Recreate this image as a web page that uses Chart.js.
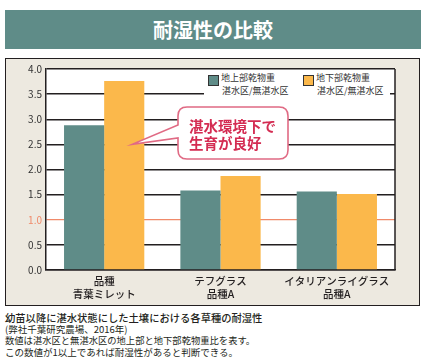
<!DOCTYPE html>
<html><head><meta charset="utf-8">
<script src="https://cdn.jsdelivr.net/npm/chart.js@4"></script>
<style>
html,body{margin:0;padding:0;background:#fff;width:429px;height:364px;overflow:hidden;font-family:"Noto Sans CJK JP","Noto Sans",sans-serif;}
#banner{position:absolute;left:5px;top:10px;width:416px;height:39px;background:#5f8c88;color:#fff;font-weight:700;font-size:20px;line-height:39px;text-align:center;letter-spacing:0px;}
#panel{position:absolute;left:5px;top:58px;width:413px;height:246px;background:#ede9e0;border:1.5px solid #231f20;}
#c{position:absolute;left:6px;top:59px;}
#legend{position:absolute;left:204px;top:70px;width:186px;height:31px;background:#fff;font-size:9px;color:#333;line-height:12px;}
.sw{position:absolute;width:9px;height:9px;border:1px solid #333;}
.lt{position:absolute;white-space:nowrap;}
#notes{position:absolute;left:5px;top:312px;color:#231f20;white-space:nowrap;}
#notes div{height:11.7px;line-height:11.7px;}
</style></head><body>
<div id="banner">耐湿性の比較</div>
<div id="panel"></div>
<canvas id="c" width="414" height="247"></canvas>
<div id="legend">
  <div class="sw" style="left:4px;top:5px;background:#5f8c88"></div>
  <div class="lt" style="left:17px;top:2px">地上部乾物重</div>
  <div class="lt" style="left:18px;top:15px">湛水区/無湛水区</div>
  <div class="sw" style="left:99px;top:5px;background:#fbb84b"></div>
  <div class="lt" style="left:112px;top:2px">地下部乾物重</div>
  <div class="lt" style="left:113px;top:15px">湛水区/無湛水区</div>
</div>
<div id="notes">
  <div style="font-size:10.3px;font-weight:500">幼苗以降に湛水状態にした土壌における各草種の耐湿性</div>
  <div style="font-size:9.5px">(弊社千葉研究農場、2016年)</div>
  <div style="font-size:9.3px">数値は湛水区と無湛水区の地上部と地下部乾物重比を表す。</div>
  <div style="font-size:9.5px">この数値が1以上であれば耐湿性があると判断できる。</div>
</div>
<script>
const categories = [['品種','青葉ミレット'], ['テフグラス','品種A'], ['イタリアンライグラス','品種A']];
const seriesNames = ['地上部乾物重 湛水区/無湛水区', '地下部乾物重 湛水区/無湛水区'];
const aboveGround = [2.88, 1.58, 1.56];
const belowGround = [3.76, 1.87, 1.51];
const yTicks = [0, 0.5, 1, 1.5, 2, 2.5, 3, 3.5, 4];
const calloutLines = ['湛水環境下で', '生育が良好'];

const DARK = '#231f20';
const SALMON = '#f08a6a';

const framePlugin = {
  id: 'frame',
  beforeDraw(chart) {
    const {ctx, chartArea: a} = chart;
    ctx.save();
    ctx.fillStyle = '#fff';
    ctx.fillRect(a.left, a.top, a.right - a.left, a.bottom - a.top);
    ctx.restore();
  },
  afterDraw(chart) {
    const {ctx, chartArea: a} = chart;
    ctx.save();
    ctx.strokeStyle = DARK;
    ctx.lineWidth = 1.5;
    ctx.beginPath();
    ctx.moveTo(a.right, a.top);
    ctx.lineTo(a.right, a.bottom);
    ctx.stroke();
    ctx.restore();
  }
};

const calloutPlugin = {
  id: 'callout',
  afterDatasetsDraw(chart) {
    const {ctx} = chart;
    const meta = chart.getDatasetMeta(1);
    const bar = meta.data[0];
    const tipX = bar.x + 8;
    const tipY = chart.scales.y.getPixelForValue(2.5);
    const bx = 172, by = 48, bw = 110, bh = 52, r = 9;
    ctx.save();
    ctx.strokeStyle = '#e06a84';
    ctx.lineWidth = 1.6;
    ctx.fillStyle = '#fff';
    ctx.beginPath();
    ctx.moveTo(bx + r, by);
    ctx.lineTo(bx + bw - r, by);
    ctx.quadraticCurveTo(bx + bw, by, bx + bw, by + r);
    ctx.lineTo(bx + bw, by + bh - r);
    ctx.quadraticCurveTo(bx + bw, by + bh, bx + bw - r, by + bh);
    ctx.lineTo(bx + r, by + bh);
    ctx.quadraticCurveTo(bx, by + bh, bx, by + bh - r);
    ctx.lineTo(bx, by + 31);
    ctx.lineTo(tipX, tipY);
    ctx.lineTo(bx, by + 18);
    ctx.lineTo(bx, by + r);
    ctx.quadraticCurveTo(bx, by, bx + r, by);
    ctx.closePath();
    ctx.fill();
    ctx.stroke();
    ctx.fillStyle = '#d42c52';
    ctx.font = '700 14.5px "Noto Sans CJK JP"';
    ctx.textAlign = 'left';
    ctx.textBaseline = 'middle';
    ctx.fillText(calloutLines[0], bx + 11, by + 19);
    ctx.fillText(calloutLines[1], bx + 11, by + 36);
    ctx.restore();
  }
};

new Chart(document.getElementById('c'), {
  type: 'bar',
  data: {
    labels: categories,
    datasets: [
      {label: seriesNames[0], data: aboveGround, backgroundColor: '#5f8c88', borderWidth: 0, barPercentage: 1, categoryPercentage: 0.69},
      {label: seriesNames[1], data: belowGround, backgroundColor: '#fbb84b', borderWidth: 0, barPercentage: 1, categoryPercentage: 0.69}
    ]
  },
  options: {
    responsive: false,
    animation: false,
    layout: {padding: {left: 0, right: 25, top: 10, bottom: 0}},
    plugins: {legend: {display: false}, tooltip: {enabled: false}},
    scales: {
      x: {
        grid: {display: false, drawTicks: false},
        border: {display: true, color: DARK, width: 1.5},
        ticks: {color: '#231f20', padding: 5, font: {family: '"Noto Sans CJK JP"', size: 10.5, weight: '500', lineHeight: 1.2}},
        afterFit(s) { s.height = 36; }
      },
      y: {
        min: 0, max: 4,
        afterBuildTicks(s) { s.ticks = yTicks.map(v => ({value: v})); },
        grid: {drawTicks: false, color: c => c.tick && c.tick.value === 1 ? SALMON : DARK, lineWidth: c => c.tick && c.tick.value === 1 ? 1.3 : 1.4},
        border: {display: true, color: DARK, width: 1.5},
        ticks: {
          padding: 4,
          color: c => c.tick && c.tick.value === 1 ? SALMON : '#333',
          font: {family: '"Noto Sans CJK JP"', size: 10},
          callback: v => Number(v).toFixed(1)
        },
        afterFit(s) { s.width = 40; }
      }
    }
  },
  plugins: [framePlugin, calloutPlugin]
});
</script>
</body></html>
